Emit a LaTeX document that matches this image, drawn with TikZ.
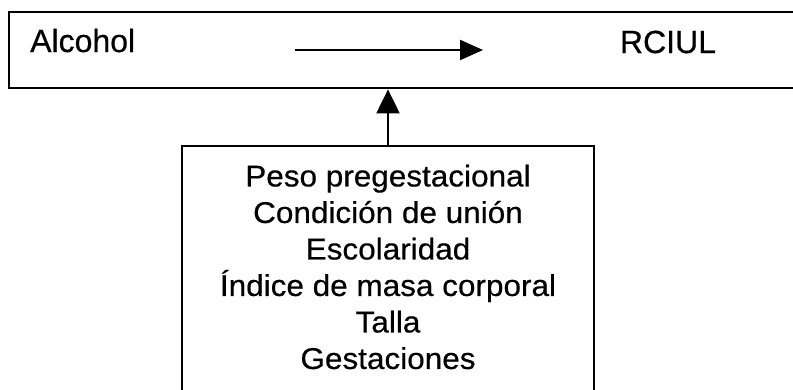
\documentclass[tikz,border=0pt]{standalone}
\usepackage{fontspec}
\setmainfont{Liberation Sans}[FakeBold=0.5]
\newfontfamily\stretchfont[FakeStretch=1.05,FakeBold=0.5]{Liberation Sans}
\usetikzlibrary{arrows.meta}
\tikzset{
  boxline/.style={draw=black, line width=2.8pt, inner sep=0pt},
  toplabel/.style={anchor=base, inner sep=0pt, font=\fontsize{32}{36}\selectfont},
  arrowline/.style={draw=black, line width=2.2pt},
}
\begin{document}
\begin{tikzpicture}[x=1pt, y=-1pt]
\useasboundingbox (0,0) rectangle (793,389);
% top box (right side runs off the page)
\node[boxline, minimum width=800pt, minimum height=76pt] (topbox) at (409,50) {};
\node[toplabel, anchor=base west] (alcohol) at (30,52) {Alcohol};
\node[toplabel] (rciul) at (668,53) {RCIUL};
\coordinate (hstart) at (295,50);
\coordinate (hend) at (483,50);
\draw[arrowline, -{Triangle[length=23pt,width=20pt]}] (hstart) -- (hend);
% factors box (bottom edge runs off the page)
\node[boxline, minimum width=412pt, minimum height=245pt] (factors) at (388,268.5) {};
\node[anchor=north, inner sep=0pt, align=center,
      font=\stretchfont\fontsize{30}{36.5}\selectfont] (factorstext) at (388,164.5)
  {Peso pregestacional\\Condición de unión\\Escolaridad\\Índice de masa corporal\\Talla\\Gestaciones};
\draw[arrowline, -{Triangle[length=24pt,width=23pt]}] (factors.north) -- (factors.north |- topbox.south);
\end{tikzpicture}
\end{document}
